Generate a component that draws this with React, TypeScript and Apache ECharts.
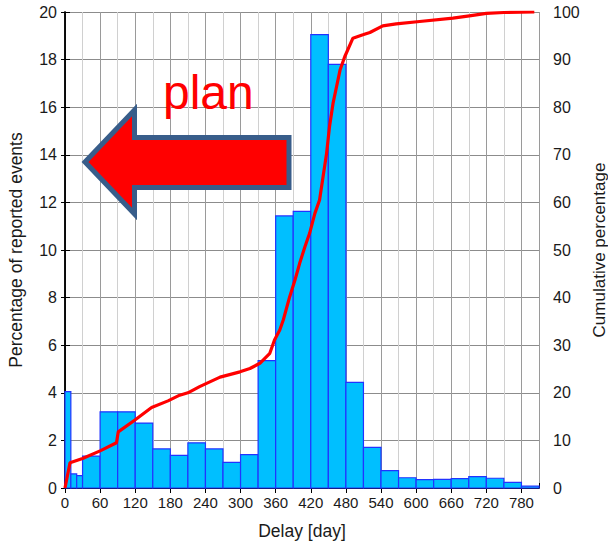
import React, { useEffect, useRef } from "react";
import * as echarts from "echarts";

// Histogram bins (days) and percentage of reported events
const binStart = [0, 10, 20, 30, 60, 90, 120, 150, 180, 210, 240, 270, 300, 330, 360, 390, 420, 450, 480, 510, 540, 570, 600, 630, 660, 690, 720, 750, 780];
const binEnd = [10, 20, 30, 60, 90, 120, 150, 180, 210, 240, 270, 300, 330, 360, 390, 420, 450, 480, 510, 540, 570, 600, 630, 660, 690, 720, 750, 780, 810];
const pct = [4.05, 0.59, 0.52, 1.34, 3.2, 3.2, 2.73, 1.64, 1.37, 1.9, 1.64, 1.08, 1.4, 5.35, 11.43, 11.62, 19.05, 17.8, 4.44, 1.71, 0.73, 0.43, 0.35, 0.36, 0.39, 0.48, 0.41, 0.24, 0.08];

// Cumulative percentage curve (day, %)
const cumDays = [0, 8.5, 30, 60, 88, 91, 119.5, 148, 176, 196, 210, 230, 265, 299, 316, 333, 350, 358, 367, 373, 384, 393, 401, 410, 418, 427, 435, 441, 447, 452, 458, 464, 470, 478, 492, 509, 521, 543, 566, 606, 663, 691, 720, 750, 802];
const cumPct = [0, 5.3, 6.2, 7.8, 9.5, 11.8, 14.3, 16.9, 18.3, 19.5, 20.0, 21.3, 23.3, 24.4, 25.1, 26.2, 28.3, 31.1, 33.2, 35.3, 40.2, 43.7, 47.2, 50.7, 53.5, 57.7, 60.5, 65.4, 70.3, 75.9, 80.8, 84.3, 87.8, 90.6, 94.5, 95.2, 95.7, 97.1, 97.5, 98.0, 98.7, 99.2, 99.7, 99.9, 100];

const FONT = "Liberation Sans";

export default function App() {
  const ref = useRef<HTMLDivElement>(null);
  useEffect(() => {
    if (!ref.current) return;
    const chart = echarts.init(ref.current, null, { renderer: "svg" });
    const barData = binStart.map((s, i) => [s, binEnd[i], pct[i]]);
    const lineData = cumDays.map((d, i) => [d, cumPct[i]]);
    const axisLine = { show: true, lineStyle: { color: "#000", width: 1.5 } };
    chart.setOption({
      animation: false,
      backgroundColor: "#fff",
      textStyle: { fontFamily: FONT },
      grid: { left: 65, right: 69, top: 12, bottom: 56, outerBoundsMode: "none", containLabel: false },
      xAxis: [
        {
          type: "value",
          min: 0,
          max: 810,
          interval: 60,
          position: "bottom",
          name: "Delay [day]",
          nameLocation: "middle",
          nameGap: 34,
          nameTextStyle: { fontSize: 17.5, color: "#1a1a1a", fontFamily: FONT },
          axisLine,
          axisTick: { show: true, length: 5, lineStyle: { color: "#000" } },
          axisLabel: { fontSize: 15, color: "#1a1a1a", margin: 7, fontFamily: FONT, showMaxLabel: false },
          splitLine: { show: true, lineStyle: { color: "#9a9a9a", width: 1 } },
          minorTick: { show: false, splitNumber: 2 },
          minorSplitLine: { show: true, lineStyle: { color: "#d0d0d0", width: 1 } },
        },
        {
          type: "value",
          min: 0,
          max: 810,
          interval: 60,
          position: "top",
          axisLine,
          axisTick: { show: true, length: 5, lineStyle: { color: "#000" } },
          axisLabel: { show: false },
          splitLine: { show: false },
        },
      ],
      yAxis: [
        {
          type: "value",
          min: 0,
          max: 20,
          interval: 2,
          position: "left",
          name: "Percentage of reported events",
          nameLocation: "middle",
          nameRotate: 90,
          nameGap: 40,
          nameTextStyle: { fontSize: 17.5, color: "#1a1a1a", fontFamily: FONT },
          axisLine,
          axisTick: { show: true, length: 4, lineStyle: { color: "#000" } },
          axisLabel: { fontSize: 16, color: "#1a1a1a", margin: 8, fontFamily: FONT },
          splitLine: { show: true, lineStyle: { color: "#8c8c8c", width: 1 } },
        },
        {
          type: "value",
          min: 0,
          max: 100,
          interval: 10,
          position: "right",
          name: "Cumulative percentage",
          nameLocation: "middle",
          nameRotate: 90,
          nameGap: 47,
          nameTextStyle: { fontSize: 17, color: "#1a1a1a", fontFamily: FONT },
          axisLine,
          axisTick: { show: true, length: 5, lineStyle: { color: "#000" } },
          axisLabel: { fontSize: 16, color: "#1a1a1a", margin: 14, fontFamily: FONT },
          splitLine: { show: false },
        },
      ],
      series: [
        {
          type: "custom",
          xAxisIndex: 0,
          yAxisIndex: 0,
          data: barData,
          encode: { x: [0, 1], y: 2 },
          z: 2,
          renderItem: (params: any, api: any) => {
            const s = api.value(0);
            const e = api.value(1);
            const v = api.value(2);
            const p0 = api.coord([s, 0]);
            const p1 = api.coord([e, v]);
            return {
              type: "rect",
              shape: { x: p0[0], y: p1[1], width: p1[0] - p0[0], height: p0[1] - p1[1] },
              style: { fill: "#00bfff", stroke: "#2233ff", lineWidth: 1.2 },
            };
          },
        },
        {
          type: "line",
          xAxisIndex: 0,
          yAxisIndex: 1,
          data: lineData,
          showSymbol: false,
          symbol: "none",
          z: 5,
          lineStyle: { color: "#ff0000", width: 3.2 },
        },
      ],
      graphic: [
        {
          type: "polygon",
          z: 100,
          shape: {
            points: [
              [85, 162],
              [134.5, 110],
              [134.5, 137.5],
              [289, 137.5],
              [289, 187.5],
              [134.5, 187.5],
              [134.5, 214],
            ],
          },
          style: { fill: "#ff0000", stroke: "#385d8a", lineWidth: 5, lineJoin: "miter" },
        },
        {
          type: "text",
          z: 100,
          x: 163,
          y: 92,
          style: {
            text: "plan",
            fill: "#ff0000",
            fontSize: 48,
            fontFamily: FONT,
            verticalAlign: "middle",
            align: "left",
          },
        },
      ],
    });
    return () => chart.dispose();
  }, []);
  return (
    <div
      ref={ref}
      style={{ position: "absolute", left: 0, top: 0, width: 608, height: 544 }}
    />
  );
}
